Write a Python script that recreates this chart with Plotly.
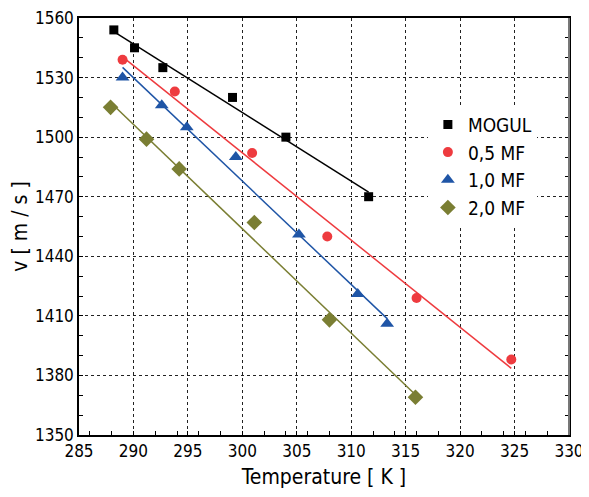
import numpy as np
import plotly.graph_objects as go

# ---- data ----
series_names = ["MOGUL", "0,5 MF", "1,0 MF", "2,0 MF"]

mogul_T = [288.2, 290.1, 292.7, 299.1, 304.0, 311.6]
mogul_v = [1554, 1545, 1535, 1520, 1500, 1470]

mf05_T = [289.0, 293.8, 300.9, 307.8, 316.0, 324.7]
mf05_v = [1539, 1523, 1492, 1450, 1419, 1388]

mf10_T = [289.0, 292.6, 294.9, 299.4, 305.2, 310.6, 313.3]
mf10_v = [1530, 1516, 1505, 1490, 1451, 1421, 1406]

mf20_T = [287.9, 291.2, 294.2, 301.1, 308.0, 315.9]
mf20_v = [1515, 1499, 1484, 1457, 1408, 1369]

x_ticks = [285, 290, 295, 300, 305, 310, 315, 320, 325, 330]
y_ticks = [1350, 1380, 1410, 1440, 1470, 1500, 1530, 1560]

# ---- styles ----
colors = ["#000000", "#ee3b3f", "#1f55a6", "#7a7e33"]
symbols = ["square", "circle", "triangle-up", "diamond"]
msizes = [9, 10, 12, 12]

FONT = "DejaVu Sans Condensed, Liberation Sans Narrow, Arial Narrow, Liberation Sans, sans-serif"

fig = go.Figure()
data = [(mogul_T, mogul_v), (mf05_T, mf05_v), (mf10_T, mf10_v), (mf20_T, mf20_v)]

for (T, v), name, c in zip(data, series_names, colors):
    T = np.array(T, dtype=float)
    v = np.array(v, dtype=float)
    m, b = np.polyfit(T, v, 1)
    xs = np.array([T.min(), T.max()])
    fig.add_trace(go.Scatter(x=xs, y=m * xs + b, mode="lines",
                             line=dict(color=c, width=1.5),
                             showlegend=False, hoverinfo="skip"))

for (T, v), name, c, s, ms in zip(data, series_names, colors, symbols, msizes):
    fig.add_trace(go.Scatter(x=T, y=v, mode="markers", name=name,
                             marker=dict(color=c, symbol=s, size=ms)))

axis_common = dict(
    showgrid=True, gridcolor="#222222", griddash="dot", gridwidth=1,
    showline=True, linecolor="#000000", linewidth=1.5,
    ticks="inside", ticklen=4, tickcolor="#000000",
    zeroline=False, automargin=False, ticklabeloverflow="allow",
    tickfont=dict(family=FONT, size=17, color="#000000"),
    minor=dict(ticks="inside", ticklen=4, tickcolor="#000000", showgrid=False),
)

fig.update_xaxes(range=[285, 330], tickvals=x_ticks, mirror=True,
                 title=dict(text="Temperature [ K ]", font=dict(family=FONT, size=21, color="#000"), standoff=13),
                 **axis_common)
fig.update_yaxes(range=[1350, 1560], tickvals=y_ticks, mirror="ticks",
                 title=dict(text="v [ m / s ]", font=dict(family=FONT, size=21, color="#000"), standoff=8),
                 **axis_common)

fig.add_shape(type="line", xref="paper", yref="paper", x0=1, x1=1, y0=0, y1=1,
              line=dict(color="#777777", width=2), layer="above")

fig.update_layout(
    width=580, height=481,
    margin=dict(l=71, r=19, t=10, b=54),
    plot_bgcolor="white", paper_bgcolor="white",
    font=dict(family=FONT, color="#000"),
    legend=dict(x=0.712, y=0.79, xanchor="left", yanchor="top",
                bgcolor="white", borderwidth=0,
                font=dict(family=FONT, size=19, color="#000"),
                itemsizing="trace", tracegroupgap=0),
)

fig.write_html("out.html")
